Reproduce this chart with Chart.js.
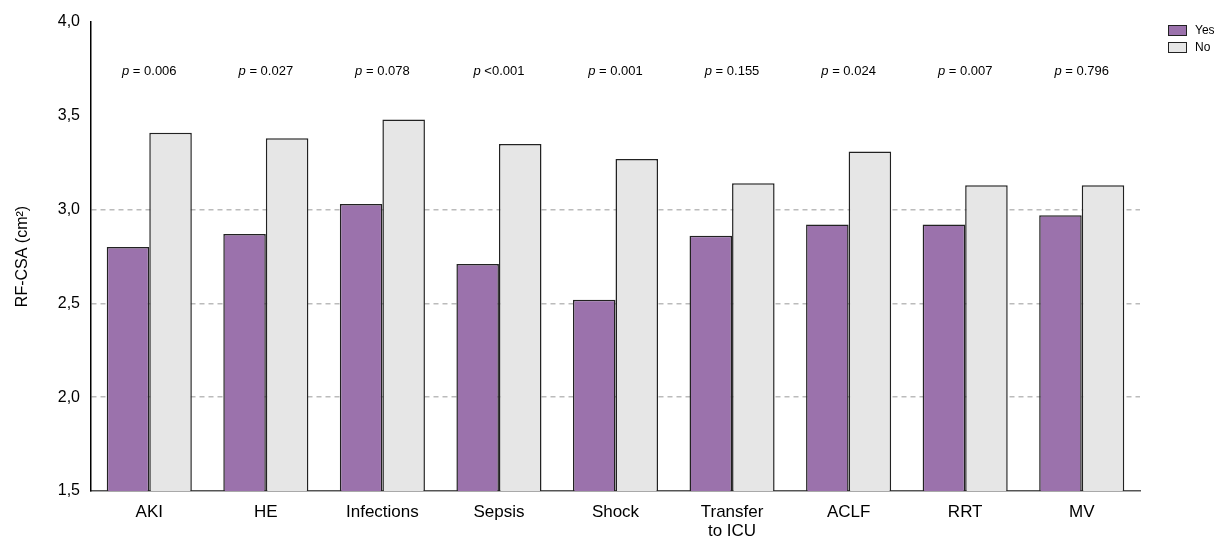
<!DOCTYPE html>
<html>
<head>
<meta charset="utf-8">
<script src="https://cdn.jsdelivr.net/npm/chart.js@4.4.1/dist/chart.umd.min.js"></script>
<style>
html,body{margin:0;padding:0;background:#fff;}
#wrap{width:1218px;height:545px;}
</style>
</head>
<body>
<div id="wrap"><canvas id="c" width="1218" height="545"></canvas></div>
<script>
const categories = [["AKI"], ["HE"], ["Infections"], ["Sepsis"], ["Shock"], ["Transfer", "to ICU"], ["ACLF"], ["RRT"], ["MV"]];
const yesValues = [2.80, 2.87, 3.03, 2.71, 2.52, 2.86, 2.92, 2.92, 2.97];
const noValues  = [3.41, 3.38, 3.48, 3.35, 3.27, 3.14, 3.31, 3.13, 3.13];
const pValues   = ["= 0.006", "= 0.027", "= 0.078", "<0.001", "= 0.001", "= 0.155", "= 0.024", "= 0.007", "= 0.796"];
const seriesNames = ["Yes", "No"];
const yTicks = [1.5, 2.0, 2.5, 3.0, 3.5, 4.0];
const gridValues = [2.0, 2.5, 3.0];

const FONT = "'Liberation Sans', Arial, sans-serif";

const pPlugin = {
  id: 'pvals',
  afterDatasetsDraw(chart) {
    const ctx = chart.ctx;
    const xs = chart.scales.x;
    ctx.save();
    ctx.fillStyle = '#000';
    ctx.textBaseline = 'middle';
    pValues.forEach((t, i) => {
      const cx = xs.getPixelForValue(i);
      ctx.font = 'italic 13px ' + FONT;
      const wp = ctx.measureText('p').width;
      ctx.font = '13px ' + FONT;
      const rest = ' ' + t;
      const wr = ctx.measureText(rest).width;
      const x0 = cx - (wp + wr) / 2;
      ctx.textAlign = 'left';
      ctx.font = 'italic 13px ' + FONT;
      ctx.fillText('p', x0, 71);
      ctx.font = '13px ' + FONT;
      ctx.fillText(rest, x0 + wp, 71);
    });
    // legend
    const ds = chart.data.datasets;
    ds.forEach((d, i) => {
      const y = 25 + i * 17;
      ctx.fillStyle = d.backgroundColor;
      ctx.fillRect(1168, y, 19, 11);
      ctx.strokeStyle = '#222';
      ctx.lineWidth = 1;
      ctx.strokeRect(1168.5, y + 0.5, 18, 10);
      ctx.fillStyle = '#000';
      ctx.font = '12px ' + FONT;
      ctx.textAlign = 'left';
      ctx.fillText(d.label, 1195, y + 6);
    });
    ctx.restore();
  }
};

new Chart(document.getElementById('c'), {
  type: 'bar',
  data: {
    labels: categories,
    datasets: [
      { label: seriesNames[0], data: yesValues, backgroundColor: '#9b72ac', borderColor: '#222', borderWidth: 1.5, borderSkipped: false },
      { label: seriesNames[1], data: noValues, backgroundColor: '#e6e6e6', borderColor: '#222', borderWidth: 1.5, borderSkipped: false }
    ]
  },
  options: {
    responsive: false,
    animation: false,
    layout: { padding: { left: 0, right: 78, top: 22, bottom: 0 } },
    plugins: { legend: { display: false }, tooltip: { enabled: false } },
    datasets: { bar: { barPercentage: 1.0, categoryPercentage: 0.73 } },
    scales: {
      x: {
        grid: { display: false, drawTicks: false },
        border: { display: true, color: '#555', width: 1.5 },
        ticks: { color: '#000', font: { family: FONT, size: 17, lineHeight: 1.12 }, padding: 12, maxRotation: 0, autoSkip: false },
        afterFit: s => { s.height = 54; }
      },
      y: {
        min: 1.5, max: 4.0,
        afterBuildTicks: s => { s.ticks = yTicks.map(v => ({ value: v })); },
        ticks: {
          color: '#000', font: { family: FONT, size: 16 }, padding: 11,
          callback: v => Number(v).toFixed(1).replace('.', ',')
        },
        grid: {
          drawTicks: false,
          color: c => gridValues.some(g => Math.abs(g - c.tick.value) < 1e-6) ? '#bbbbbb' : 'rgba(0,0,0,0)',
          lineWidth: 1.5
        },
        border: { display: true, color: '#000', width: 1.5, dash: [5, 4] },
        title: { display: true, text: 'RF-CSA (cm²)', color: '#000', font: { family: FONT, size: 16 }, padding: { top: 13, bottom: 0 } },
        afterFit: s => { s.width = 91; }
      }
    }
  },
  plugins: [pPlugin]
});
</script>
</body>
</html>
